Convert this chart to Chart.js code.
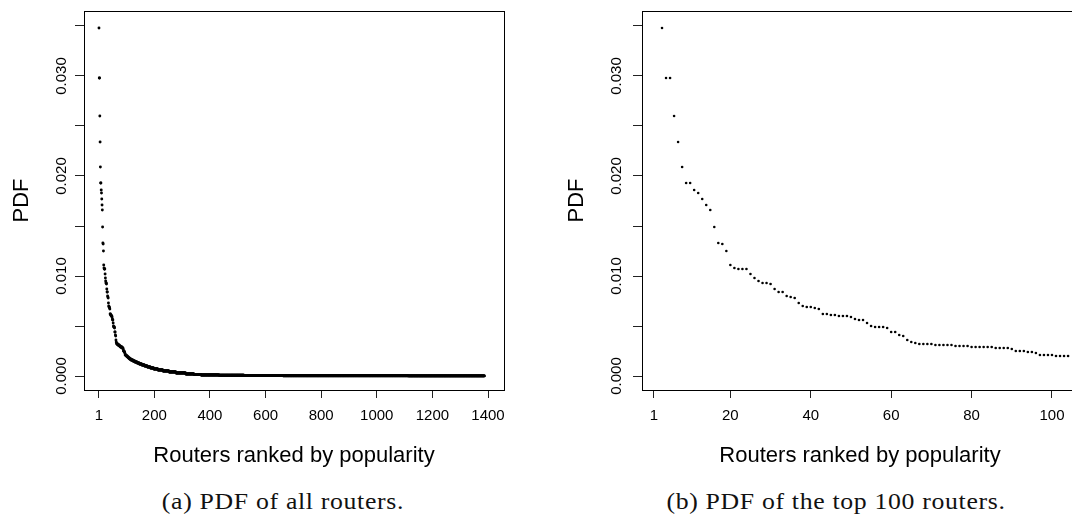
<!DOCTYPE html>
<html>
<head>
<meta charset="utf-8">
<script src="https://cdn.jsdelivr.net/npm/chart.js@4.4.0/dist/chart.umd.min.js"></script>
<style>
  html, body { margin: 0; padding: 0; background: #fff; overflow: hidden; width: 1072px; height: 525px; }
  .panel { position: absolute; top: 0; }
  #wrapA { left: 0; }
  #wrapB { left: 540px; }
  .caption { position: absolute; top: 489px; font-family: "Liberation Serif", serif; font-size: 23px; line-height: 26px;
             letter-spacing: 0.6px; white-space: nowrap; color: #111; transform: translateX(-50%) scaleX(1.12); }
</style>
</head>
<body>
<div class="panel" id="wrapA"><canvas id="allChart" width="540" height="470"></canvas></div>
<div class="panel" id="wrapB"><canvas id="topChart" width="560" height="470"></canvas></div>
<div class="caption" style="left:283px">(a) PDF of all routers.</div>
<div class="caption" style="left:836px">(b) PDF of the top 100 routers.</div>
<script>
// PDF of the 102 most popular routers, in rank order
var topPdf = [
	0.0348, 0.0298, 0.0298, 0.0260, 0.0234, 0.0209, 0.0193, 0.0193, 0.0186, 0.0183,
	0.0177, 0.0171, 0.0166, 0.0149, 0.0133, 0.0132, 0.0125, 0.0111, 0.0108, 0.0107,
	0.0107, 0.0107, 0.0102, 0.0098, 0.0095, 0.0093, 0.0093, 0.0092, 0.0087, 0.0084,
	0.0084, 0.0080, 0.0079, 0.0078, 0.0073, 0.0070, 0.0069, 0.0069, 0.0068, 0.0067,
	0.0062, 0.0062, 0.0061, 0.0061, 0.0060, 0.0060, 0.0060, 0.0059, 0.0057, 0.0056,
	0.0056, 0.0053, 0.0050, 0.0049, 0.0049, 0.0049, 0.0048, 0.0044, 0.0044, 0.0041,
	0.0040, 0.0036, 0.0034, 0.0033, 0.0032, 0.0032, 0.0032, 0.0032, 0.0031, 0.0031,
	0.0031, 0.0031, 0.0031, 0.0030, 0.0030, 0.0030, 0.0030, 0.0029, 0.0029, 0.0029,
	0.0029, 0.0029, 0.0029, 0.0028, 0.0028, 0.0028, 0.0028, 0.0027, 0.0025, 0.0025,
	0.0025, 0.0024, 0.0024, 0.0023, 0.0021, 0.0021, 0.0021, 0.0021, 0.0020, 0.0020,
	0.0020, 0.0020
];

// the long tail: each PDF level and how many routers share it
var tailLevels = [0.0019, 0.0018, 0.0017, 0.0016, 0.0015, 0.0014, 0.0013, 0.0012, 0.0011, 0.0010,
	0.0009, 0.0008, 0.0007, 0.0006, 0.0005, 0.0004, 0.0003, 0.0002, 0.00015, 0.0001,
	0.00007, 0.00005, 0.00003, 0.00002, 0.00001];
var tailRuns = [4, 4, 5, 7, 7, 8, 8, 9, 10, 10,
	11, 12, 15, 18, 22, 25, 35, 30, 25, 65,
	90, 140, 200, 250, 275];

var pdfTicks = [0, 0.005, 0.010, 0.015, 0.020, 0.025, 0.030, 0.035];
var pdfLabels = [0, 0.010, 0.020, 0.030];
var allRankTicks = [1, 200, 400, 600, 800, 1000, 1200, 1400];
var topRankTicks = [1, 20, 40, 60, 80, 100];

var axisFont = 'Liberation Sans, Arial, sans-serif';

var allPoints = [];
for (var i = 0; i < topPdf.length; i++) {
	allPoints.push({ x: i + 1, y: topPdf[i] });
}
for (var j = 0; j < tailLevels.length; j++) {
	for (var k = 0; k < tailRuns[j]; k++) {
		allPoints.push({ x: allPoints.length + 1, y: tailLevels[j] });
	}
}

var topPoints = [];
for (var i = 0; i < topPdf.length; i++) {
	topPoints.push({ x: i + 3, y: topPdf[i] });
}

// box, rotated y labels and axis titles, R style
var rFrame = {
	id: 'rFrame',
	afterDraw: function(chart, args, opts) {
		var ctx = chart.ctx;
		var a = chart.chartArea;
		var yScale = chart.scales.y;
		ctx.save();
		ctx.strokeStyle = '#000';
		ctx.lineWidth = 1;
		ctx.strokeRect(Math.round(a.left) + 0.5, Math.round(a.top) + 0.5,
			Math.round(a.right - a.left), Math.round(a.bottom - a.top));

		ctx.fillStyle = '#000';
		ctx.textAlign = 'center';
		ctx.textBaseline = 'middle';
		ctx.font = '15px ' + axisFont;
		pdfLabels.forEach(function(v) {
			ctx.save();
			ctx.translate(opts.yLabelX, yScale.getPixelForValue(v));
			ctx.rotate(-Math.PI / 2);
			ctx.fillText(v.toFixed(3), 0, 0);
			ctx.restore();
		});

		ctx.font = '22px ' + axisFont;
		ctx.save();
		ctx.translate(opts.yTitleX, (a.top + a.bottom) / 2);
		ctx.rotate(-Math.PI / 2);
		ctx.fillText('PDF', 0, 0);
		ctx.restore();

		ctx.fillText('Routers ranked by popularity', (a.left + a.right) / 2, opts.xTitleY);
		ctx.restore();
	}
};

var makeChart = function(elementId, points, xMin, xMax, xTicks, plotLeft, padRight, dotRadius, frame) {
	var ctx = document.getElementById(elementId).getContext('2d');
	return new Chart(ctx, {
		type: 'scatter',
		data: {
			datasets: [{
				data: points,
				backgroundColor: '#000',
				borderWidth: 0,
				pointRadius: dotRadius,
				pointHoverRadius: dotRadius
			}]
		},
		options: {
			responsive: false,
			animation: false,
			events: [],
			layout: { padding: { top: 11, right: padRight, left: 0, bottom: 0 } },
			plugins: {
				legend: { display: false },
				tooltip: { enabled: false },
				rFrame: frame
			},
			scales: {
				x: {
					type: 'linear',
					min: xMin,
					max: xMax,
					afterBuildTicks: function(scale) {
						scale.ticks = xTicks.map(function(v) { return { value: v }; });
					},
					afterFit: function(scale) { scale.height = 80; },
					grid: { drawOnChartArea: false, drawTicks: true, tickLength: 8, color: '#222', lineWidth: 1 },
					border: { display: false },
					ticks: {
						autoSkip: false,
						maxRotation: 0,
						padding: 9,
						color: '#000',
						font: { family: axisFont, size: 15 },
						callback: function(v) { return String(v); }
					}
				},
				y: {
					type: 'linear',
					min: -0.0014,
					max: 0.0365,
					afterBuildTicks: function(scale) {
						scale.ticks = pdfTicks.map(function(v) { return { value: v }; });
					},
					afterFit: function(scale) { scale.width = plotLeft; },
					grid: { drawOnChartArea: false, drawTicks: true, tickLength: 9, color: '#222', lineWidth: 1 },
					border: { display: false },
					ticks: { display: false }
				}
			}
		},
		plugins: [rFrame]
	});
};

makeChart('allChart', allPoints, -52.9, 1457.5, allRankTicks, 84, 36, 1.45,
	{ yLabelX: 62, yTitleX: 22, xTitleY: 456 });
makeChart('topChart', topPoints, -1.98, 106.47, topRankTicks, 102, 22, 1.3,
	{ yLabelX: 77, yTitleX: 37, xTitleY: 456 });
</script>
</body>
</html>
